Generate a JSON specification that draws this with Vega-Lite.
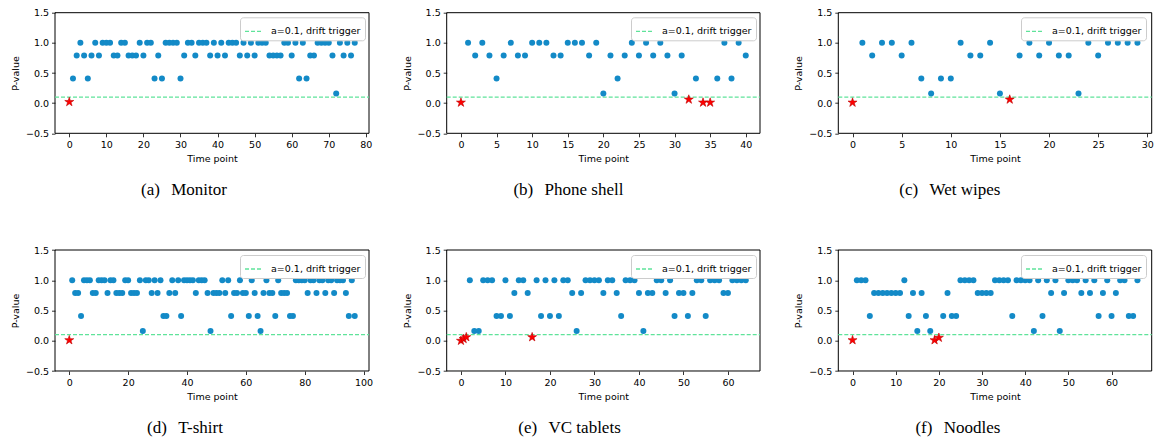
{
"$schema": "https://vega.github.io/schema/vega-lite/v6.json",
"autosize": "none",
"width": 1097,
"height": 358.3,
"padding": {"left": 55, "top": 12.7, "right": 9, "bottom": 72},
"background": "white",
"data": {"values": [
{"p":"a","t":0,"v":0.02,"k":"s"},{"p":"a","t":1,"v":0.41,"k":"c"},{"p":"a","t":2,"v":0.79,"k":"c"},{"p":"a","t":3,"v":1.0,"k":"c"},{"p":"a","t":4,"v":0.79,"k":"c"},{"p":"a","t":5,"v":0.41,"k":"c"},{"p":"a","t":6,"v":0.79,"k":"c"},{"p":"a","t":7,"v":1.0,"k":"c"},{"p":"a","t":8,"v":0.79,"k":"c"},{"p":"a","t":9,"v":1.0,"k":"c"},{"p":"a","t":10,"v":1.0,"k":"c"},{"p":"a","t":11,"v":1.0,"k":"c"},{"p":"a","t":12,"v":0.79,"k":"c"},{"p":"a","t":13,"v":0.79,"k":"c"},{"p":"a","t":14,"v":1.0,"k":"c"},{"p":"a","t":15,"v":1.0,"k":"c"},{"p":"a","t":16,"v":0.79,"k":"c"},{"p":"a","t":17,"v":0.79,"k":"c"},{"p":"a","t":18,"v":0.79,"k":"c"},{"p":"a","t":19,"v":1.0,"k":"c"},{"p":"a","t":20,"v":0.79,"k":"c"},{"p":"a","t":21,"v":1.0,"k":"c"},{"p":"a","t":22,"v":1.0,"k":"c"},{"p":"a","t":23,"v":0.41,"k":"c"},{"p":"a","t":24,"v":0.79,"k":"c"},{"p":"a","t":25,"v":0.41,"k":"c"},{"p":"a","t":26,"v":1.0,"k":"c"},{"p":"a","t":27,"v":1.0,"k":"c"},{"p":"a","t":28,"v":1.0,"k":"c"},{"p":"a","t":29,"v":1.0,"k":"c"},{"p":"a","t":30,"v":0.41,"k":"c"},{"p":"a","t":31,"v":0.79,"k":"c"},{"p":"a","t":32,"v":1.0,"k":"c"},{"p":"a","t":33,"v":1.0,"k":"c"},{"p":"a","t":34,"v":0.79,"k":"c"},{"p":"a","t":35,"v":1.0,"k":"c"},{"p":"a","t":36,"v":1.0,"k":"c"},{"p":"a","t":37,"v":1.0,"k":"c"},{"p":"a","t":38,"v":0.79,"k":"c"},{"p":"a","t":39,"v":1.0,"k":"c"},{"p":"a","t":40,"v":0.79,"k":"c"},{"p":"a","t":41,"v":1.0,"k":"c"},{"p":"a","t":42,"v":0.79,"k":"c"},{"p":"a","t":43,"v":1.0,"k":"c"},{"p":"a","t":44,"v":1.0,"k":"c"},{"p":"a","t":45,"v":1.0,"k":"c"},{"p":"a","t":46,"v":0.79,"k":"c"},{"p":"a","t":47,"v":1.0,"k":"c"},{"p":"a","t":48,"v":0.79,"k":"c"},{"p":"a","t":49,"v":1.0,"k":"c"},{"p":"a","t":50,"v":0.79,"k":"c"},{"p":"a","t":51,"v":1.0,"k":"c"},{"p":"a","t":52,"v":1.0,"k":"c"},{"p":"a","t":53,"v":1.0,"k":"c"},{"p":"a","t":54,"v":0.79,"k":"c"},{"p":"a","t":55,"v":0.79,"k":"c"},{"p":"a","t":56,"v":0.79,"k":"c"},{"p":"a","t":57,"v":0.79,"k":"c"},{"p":"a","t":58,"v":1.0,"k":"c"},{"p":"a","t":59,"v":1.0,"k":"c"},{"p":"a","t":60,"v":0.79,"k":"c"},{"p":"a","t":61,"v":1.0,"k":"c"},{"p":"a","t":62,"v":0.41,"k":"c"},{"p":"a","t":63,"v":1.0,"k":"c"},{"p":"a","t":64,"v":0.41,"k":"c"},{"p":"a","t":65,"v":0.79,"k":"c"},{"p":"a","t":66,"v":0.79,"k":"c"},{"p":"a","t":67,"v":1.0,"k":"c"},{"p":"a","t":68,"v":1.0,"k":"c"},{"p":"a","t":69,"v":1.0,"k":"c"},{"p":"a","t":70,"v":1.0,"k":"c"},{"p":"a","t":71,"v":0.79,"k":"c"},{"p":"a","t":72,"v":0.16,"k":"c"},{"p":"a","t":73,"v":1.0,"k":"c"},{"p":"a","t":74,"v":0.79,"k":"c"},{"p":"a","t":75,"v":1.0,"k":"c"},{"p":"a","t":76,"v":0.79,"k":"c"},{"p":"a","t":77,"v":1.0,"k":"c"},
{"p":"b","t":0,"v":0.01,"k":"s"},{"p":"b","t":1,"v":1.0,"k":"c"},{"p":"b","t":2,"v":0.79,"k":"c"},{"p":"b","t":3,"v":1.0,"k":"c"},{"p":"b","t":4,"v":0.79,"k":"c"},{"p":"b","t":5,"v":0.41,"k":"c"},{"p":"b","t":6,"v":0.79,"k":"c"},{"p":"b","t":7,"v":1.0,"k":"c"},{"p":"b","t":8,"v":0.79,"k":"c"},{"p":"b","t":9,"v":0.79,"k":"c"},{"p":"b","t":10,"v":1.0,"k":"c"},{"p":"b","t":11,"v":1.0,"k":"c"},{"p":"b","t":12,"v":1.0,"k":"c"},{"p":"b","t":13,"v":0.79,"k":"c"},{"p":"b","t":14,"v":0.79,"k":"c"},{"p":"b","t":15,"v":1.0,"k":"c"},{"p":"b","t":16,"v":1.0,"k":"c"},{"p":"b","t":17,"v":1.0,"k":"c"},{"p":"b","t":18,"v":0.79,"k":"c"},{"p":"b","t":19,"v":1.0,"k":"c"},{"p":"b","t":20,"v":0.16,"k":"c"},{"p":"b","t":21,"v":0.79,"k":"c"},{"p":"b","t":22,"v":0.41,"k":"c"},{"p":"b","t":23,"v":0.79,"k":"c"},{"p":"b","t":24,"v":1.0,"k":"c"},{"p":"b","t":25,"v":0.79,"k":"c"},{"p":"b","t":26,"v":1.0,"k":"c"},{"p":"b","t":27,"v":0.79,"k":"c"},{"p":"b","t":28,"v":1.0,"k":"c"},{"p":"b","t":29,"v":0.79,"k":"c"},{"p":"b","t":30,"v":0.16,"k":"c"},{"p":"b","t":31,"v":0.79,"k":"c"},{"p":"b","t":32,"v":0.06,"k":"s"},{"p":"b","t":33,"v":0.41,"k":"c"},{"p":"b","t":34,"v":0.01,"k":"s"},{"p":"b","t":35,"v":0.01,"k":"s"},{"p":"b","t":36,"v":0.41,"k":"c"},{"p":"b","t":37,"v":1.0,"k":"c"},{"p":"b","t":38,"v":0.41,"k":"c"},{"p":"b","t":39,"v":1.0,"k":"c"},{"p":"b","t":40,"v":0.79,"k":"c"},
{"p":"c","t":0,"v":0.01,"k":"s"},{"p":"c","t":1,"v":1.0,"k":"c"},{"p":"c","t":2,"v":0.79,"k":"c"},{"p":"c","t":3,"v":1.0,"k":"c"},{"p":"c","t":4,"v":1.0,"k":"c"},{"p":"c","t":5,"v":0.79,"k":"c"},{"p":"c","t":6,"v":1.0,"k":"c"},{"p":"c","t":7,"v":0.41,"k":"c"},{"p":"c","t":8,"v":0.16,"k":"c"},{"p":"c","t":9,"v":0.41,"k":"c"},{"p":"c","t":10,"v":0.41,"k":"c"},{"p":"c","t":11,"v":1.0,"k":"c"},{"p":"c","t":12,"v":0.79,"k":"c"},{"p":"c","t":13,"v":0.79,"k":"c"},{"p":"c","t":14,"v":1.0,"k":"c"},{"p":"c","t":15,"v":0.16,"k":"c"},{"p":"c","t":16,"v":0.06,"k":"s"},{"p":"c","t":17,"v":0.79,"k":"c"},{"p":"c","t":18,"v":1.0,"k":"c"},{"p":"c","t":19,"v":0.79,"k":"c"},{"p":"c","t":20,"v":1.0,"k":"c"},{"p":"c","t":21,"v":0.79,"k":"c"},{"p":"c","t":22,"v":0.79,"k":"c"},{"p":"c","t":23,"v":0.16,"k":"c"},{"p":"c","t":24,"v":1.0,"k":"c"},{"p":"c","t":25,"v":0.79,"k":"c"},{"p":"c","t":26,"v":1.0,"k":"c"},{"p":"c","t":27,"v":1.0,"k":"c"},{"p":"c","t":28,"v":1.0,"k":"c"},{"p":"c","t":29,"v":1.0,"k":"c"},
{"p":"d","t":0,"v":0.01,"k":"s"},{"p":"d","t":1,"v":1.0,"k":"c"},{"p":"d","t":2,"v":0.79,"k":"c"},{"p":"d","t":3,"v":0.79,"k":"c"},{"p":"d","t":4,"v":0.41,"k":"c"},{"p":"d","t":5,"v":1.0,"k":"c"},{"p":"d","t":6,"v":1.0,"k":"c"},{"p":"d","t":7,"v":1.0,"k":"c"},{"p":"d","t":8,"v":0.79,"k":"c"},{"p":"d","t":9,"v":0.79,"k":"c"},{"p":"d","t":10,"v":1.0,"k":"c"},{"p":"d","t":11,"v":1.0,"k":"c"},{"p":"d","t":12,"v":1.0,"k":"c"},{"p":"d","t":13,"v":0.79,"k":"c"},{"p":"d","t":14,"v":1.0,"k":"c"},{"p":"d","t":15,"v":1.0,"k":"c"},{"p":"d","t":16,"v":0.79,"k":"c"},{"p":"d","t":17,"v":0.79,"k":"c"},{"p":"d","t":18,"v":0.79,"k":"c"},{"p":"d","t":19,"v":1.0,"k":"c"},{"p":"d","t":20,"v":1.0,"k":"c"},{"p":"d","t":21,"v":0.79,"k":"c"},{"p":"d","t":22,"v":0.79,"k":"c"},{"p":"d","t":23,"v":0.79,"k":"c"},{"p":"d","t":24,"v":1.0,"k":"c"},{"p":"d","t":25,"v":0.16,"k":"c"},{"p":"d","t":26,"v":1.0,"k":"c"},{"p":"d","t":27,"v":1.0,"k":"c"},{"p":"d","t":28,"v":0.79,"k":"c"},{"p":"d","t":29,"v":1.0,"k":"c"},{"p":"d","t":30,"v":0.79,"k":"c"},{"p":"d","t":31,"v":1.0,"k":"c"},{"p":"d","t":32,"v":0.41,"k":"c"},{"p":"d","t":33,"v":0.41,"k":"c"},{"p":"d","t":34,"v":0.79,"k":"c"},{"p":"d","t":35,"v":1.0,"k":"c"},{"p":"d","t":36,"v":0.79,"k":"c"},{"p":"d","t":37,"v":1.0,"k":"c"},{"p":"d","t":38,"v":0.41,"k":"c"},{"p":"d","t":39,"v":1.0,"k":"c"},{"p":"d","t":40,"v":1.0,"k":"c"},{"p":"d","t":41,"v":1.0,"k":"c"},{"p":"d","t":42,"v":1.0,"k":"c"},{"p":"d","t":43,"v":0.79,"k":"c"},{"p":"d","t":44,"v":1.0,"k":"c"},{"p":"d","t":45,"v":1.0,"k":"c"},{"p":"d","t":46,"v":1.0,"k":"c"},{"p":"d","t":47,"v":0.79,"k":"c"},{"p":"d","t":48,"v":0.16,"k":"c"},{"p":"d","t":49,"v":0.79,"k":"c"},{"p":"d","t":50,"v":0.79,"k":"c"},{"p":"d","t":51,"v":0.79,"k":"c"},{"p":"d","t":52,"v":1.0,"k":"c"},{"p":"d","t":53,"v":0.79,"k":"c"},{"p":"d","t":54,"v":1.0,"k":"c"},{"p":"d","t":55,"v":0.41,"k":"c"},{"p":"d","t":56,"v":0.79,"k":"c"},{"p":"d","t":57,"v":0.79,"k":"c"},{"p":"d","t":58,"v":1.0,"k":"c"},{"p":"d","t":59,"v":0.79,"k":"c"},{"p":"d","t":60,"v":0.79,"k":"c"},{"p":"d","t":61,"v":0.41,"k":"c"},{"p":"d","t":62,"v":1.0,"k":"c"},{"p":"d","t":63,"v":0.79,"k":"c"},{"p":"d","t":64,"v":0.41,"k":"c"},{"p":"d","t":65,"v":0.16,"k":"c"},{"p":"d","t":66,"v":0.79,"k":"c"},{"p":"d","t":67,"v":1.0,"k":"c"},{"p":"d","t":68,"v":0.79,"k":"c"},{"p":"d","t":69,"v":0.79,"k":"c"},{"p":"d","t":70,"v":0.41,"k":"c"},{"p":"d","t":71,"v":1.0,"k":"c"},{"p":"d","t":72,"v":0.79,"k":"c"},{"p":"d","t":73,"v":0.79,"k":"c"},{"p":"d","t":74,"v":0.79,"k":"c"},{"p":"d","t":75,"v":0.41,"k":"c"},{"p":"d","t":76,"v":0.41,"k":"c"},{"p":"d","t":77,"v":1.0,"k":"c"},{"p":"d","t":78,"v":1.0,"k":"c"},{"p":"d","t":79,"v":1.0,"k":"c"},{"p":"d","t":80,"v":1.0,"k":"c"},{"p":"d","t":81,"v":0.79,"k":"c"},{"p":"d","t":82,"v":1.0,"k":"c"},{"p":"d","t":83,"v":1.0,"k":"c"},{"p":"d","t":84,"v":0.79,"k":"c"},{"p":"d","t":85,"v":1.0,"k":"c"},{"p":"d","t":86,"v":1.0,"k":"c"},{"p":"d","t":87,"v":0.79,"k":"c"},{"p":"d","t":88,"v":1.0,"k":"c"},{"p":"d","t":89,"v":1.0,"k":"c"},{"p":"d","t":90,"v":0.79,"k":"c"},{"p":"d","t":91,"v":1.0,"k":"c"},{"p":"d","t":92,"v":1.0,"k":"c"},{"p":"d","t":93,"v":1.0,"k":"c"},{"p":"d","t":94,"v":0.79,"k":"c"},{"p":"d","t":95,"v":0.41,"k":"c"},{"p":"d","t":96,"v":1.0,"k":"c"},{"p":"d","t":97,"v":0.41,"k":"c"},
{"p":"e","t":0,"v":0.0,"k":"s"},{"p":"e","t":0.6,"v":0.03,"k":"s"},{"p":"e","t":1.2,"v":0.06,"k":"s"},{"p":"e","t":2,"v":1.0,"k":"c"},{"p":"e","t":3,"v":0.16,"k":"c"},{"p":"e","t":4,"v":0.16,"k":"c"},{"p":"e","t":5,"v":1.0,"k":"c"},{"p":"e","t":6,"v":1.0,"k":"c"},{"p":"e","t":7,"v":1.0,"k":"c"},{"p":"e","t":8,"v":0.41,"k":"c"},{"p":"e","t":9,"v":0.41,"k":"c"},{"p":"e","t":10,"v":1.0,"k":"c"},{"p":"e","t":11,"v":0.41,"k":"c"},{"p":"e","t":12,"v":0.79,"k":"c"},{"p":"e","t":13,"v":1.0,"k":"c"},{"p":"e","t":14,"v":1.0,"k":"c"},{"p":"e","t":15,"v":0.79,"k":"c"},{"p":"e","t":16,"v":0.06,"k":"s"},{"p":"e","t":17,"v":1.0,"k":"c"},{"p":"e","t":18,"v":0.41,"k":"c"},{"p":"e","t":19,"v":1.0,"k":"c"},{"p":"e","t":20,"v":0.41,"k":"c"},{"p":"e","t":21,"v":1.0,"k":"c"},{"p":"e","t":22,"v":0.41,"k":"c"},{"p":"e","t":23,"v":1.0,"k":"c"},{"p":"e","t":24,"v":1.0,"k":"c"},{"p":"e","t":25,"v":0.79,"k":"c"},{"p":"e","t":26,"v":0.16,"k":"c"},{"p":"e","t":27,"v":0.79,"k":"c"},{"p":"e","t":28,"v":1.0,"k":"c"},{"p":"e","t":29,"v":1.0,"k":"c"},{"p":"e","t":30,"v":1.0,"k":"c"},{"p":"e","t":31,"v":1.0,"k":"c"},{"p":"e","t":32,"v":0.79,"k":"c"},{"p":"e","t":33,"v":1.0,"k":"c"},{"p":"e","t":34,"v":1.0,"k":"c"},{"p":"e","t":35,"v":0.79,"k":"c"},{"p":"e","t":36,"v":0.41,"k":"c"},{"p":"e","t":37,"v":1.0,"k":"c"},{"p":"e","t":38,"v":1.0,"k":"c"},{"p":"e","t":39,"v":1.0,"k":"c"},{"p":"e","t":40,"v":0.79,"k":"c"},{"p":"e","t":41,"v":0.16,"k":"c"},{"p":"e","t":42,"v":0.79,"k":"c"},{"p":"e","t":43,"v":0.79,"k":"c"},{"p":"e","t":44,"v":1.0,"k":"c"},{"p":"e","t":45,"v":1.0,"k":"c"},{"p":"e","t":46,"v":0.79,"k":"c"},{"p":"e","t":47,"v":1.0,"k":"c"},{"p":"e","t":48,"v":0.41,"k":"c"},{"p":"e","t":49,"v":0.79,"k":"c"},{"p":"e","t":50,"v":0.79,"k":"c"},{"p":"e","t":51,"v":0.41,"k":"c"},{"p":"e","t":52,"v":0.79,"k":"c"},{"p":"e","t":53,"v":1.0,"k":"c"},{"p":"e","t":54,"v":1.0,"k":"c"},{"p":"e","t":55,"v":0.41,"k":"c"},{"p":"e","t":56,"v":1.0,"k":"c"},{"p":"e","t":57,"v":1.0,"k":"c"},{"p":"e","t":58,"v":1.0,"k":"c"},{"p":"e","t":59,"v":0.79,"k":"c"},{"p":"e","t":60,"v":0.79,"k":"c"},{"p":"e","t":61,"v":1.0,"k":"c"},{"p":"e","t":62,"v":1.0,"k":"c"},{"p":"e","t":63,"v":1.0,"k":"c"},{"p":"e","t":64,"v":1.0,"k":"c"},
{"p":"f","t":0,"v":0.01,"k":"s"},{"p":"f","t":1,"v":1.0,"k":"c"},{"p":"f","t":2,"v":1.0,"k":"c"},{"p":"f","t":3,"v":1.0,"k":"c"},{"p":"f","t":4,"v":0.41,"k":"c"},{"p":"f","t":5,"v":0.79,"k":"c"},{"p":"f","t":6,"v":0.79,"k":"c"},{"p":"f","t":7,"v":0.79,"k":"c"},{"p":"f","t":8,"v":0.79,"k":"c"},{"p":"f","t":9,"v":0.79,"k":"c"},{"p":"f","t":10,"v":0.79,"k":"c"},{"p":"f","t":11,"v":0.79,"k":"c"},{"p":"f","t":12,"v":1.0,"k":"c"},{"p":"f","t":13,"v":0.41,"k":"c"},{"p":"f","t":14,"v":0.79,"k":"c"},{"p":"f","t":15,"v":0.16,"k":"c"},{"p":"f","t":16,"v":0.79,"k":"c"},{"p":"f","t":17,"v":0.41,"k":"c"},{"p":"f","t":18,"v":0.16,"k":"c"},{"p":"f","t":19,"v":0.01,"k":"s"},{"p":"f","t":20,"v":0.05,"k":"s"},{"p":"f","t":21,"v":0.41,"k":"c"},{"p":"f","t":22,"v":0.79,"k":"c"},{"p":"f","t":23,"v":0.41,"k":"c"},{"p":"f","t":24,"v":0.41,"k":"c"},{"p":"f","t":25,"v":1.0,"k":"c"},{"p":"f","t":26,"v":1.0,"k":"c"},{"p":"f","t":27,"v":1.0,"k":"c"},{"p":"f","t":28,"v":1.0,"k":"c"},{"p":"f","t":29,"v":0.79,"k":"c"},{"p":"f","t":30,"v":0.79,"k":"c"},{"p":"f","t":31,"v":0.79,"k":"c"},{"p":"f","t":32,"v":0.79,"k":"c"},{"p":"f","t":33,"v":1.0,"k":"c"},{"p":"f","t":34,"v":1.0,"k":"c"},{"p":"f","t":35,"v":1.0,"k":"c"},{"p":"f","t":36,"v":1.0,"k":"c"},{"p":"f","t":37,"v":0.41,"k":"c"},{"p":"f","t":38,"v":1.0,"k":"c"},{"p":"f","t":39,"v":1.0,"k":"c"},{"p":"f","t":40,"v":1.0,"k":"c"},{"p":"f","t":41,"v":1.0,"k":"c"},{"p":"f","t":42,"v":0.16,"k":"c"},{"p":"f","t":43,"v":1.0,"k":"c"},{"p":"f","t":44,"v":0.41,"k":"c"},{"p":"f","t":45,"v":1.0,"k":"c"},{"p":"f","t":46,"v":0.79,"k":"c"},{"p":"f","t":47,"v":1.0,"k":"c"},{"p":"f","t":48,"v":0.16,"k":"c"},{"p":"f","t":49,"v":0.79,"k":"c"},{"p":"f","t":50,"v":1.0,"k":"c"},{"p":"f","t":51,"v":1.0,"k":"c"},{"p":"f","t":52,"v":1.0,"k":"c"},{"p":"f","t":53,"v":0.79,"k":"c"},{"p":"f","t":54,"v":1.0,"k":"c"},{"p":"f","t":55,"v":0.79,"k":"c"},{"p":"f","t":56,"v":1.0,"k":"c"},{"p":"f","t":57,"v":0.41,"k":"c"},{"p":"f","t":58,"v":0.79,"k":"c"},{"p":"f","t":59,"v":1.0,"k":"c"},{"p":"f","t":60,"v":0.41,"k":"c"},{"p":"f","t":61,"v":0.79,"k":"c"},{"p":"f","t":62,"v":1.0,"k":"c"},{"p":"f","t":63,"v":1.0,"k":"c"},{"p":"f","t":64,"v":0.41,"k":"c"},{"p":"f","t":65,"v":0.41,"k":"c"},{"p":"f","t":66,"v":1.0,"k":"c"}
]},
"resolve": {"scale": {"x": "independent", "y": "independent", "color": "independent"}, "axis": {"x": "independent", "y": "independent"}, "legend": {"color": "independent"}},
"layer": [
{"layer": [
  {"data": {"values": [{}]}, "mark": {"type": "rect", "filled": false, "color": "black", "strokeWidth": 1},
   "encoding": {"x": {"datum": -3.85, "type": "quantitative", "title": "Time point", "scale": {"domain": [-3.85, 80.85], "range": [0, 314], "nice": false, "zero": false}, "axis": {"orient": "bottom", "offset": -237.7, "values": [0,10,20,30,40,50,60,70,80], "format": "d"}}, "x2": {"datum": 80.85}, "y": {"datum": -0.5, "type": "quantitative", "title": "P-value", "scale": {"domain": [-0.5, 1.5], "range": [120.6, 0], "nice": false, "zero": false}, "axis": {"orient": "left", "offset": 0, "values": [-0.5,0,0.5,1,1.5], "format": ".1f"}}, "y2": {"datum": 1.5}}},
  {"data": {"values": [{}]}, "mark": {"type": "rule", "strokeDash": [4, 2], "strokeWidth": 1.3},
   "encoding": {"x": {"datum": -3.85, "type": "quantitative", "title": "Time point", "scale": {"domain": [-3.85, 80.85], "range": [0, 314], "nice": false, "zero": false}, "axis": {"orient": "bottom", "offset": -237.7, "values": [0,10,20,30,40,50,60,70,80], "format": "d"}}, "x2": {"datum": 80.85}, "y": {"datum": 0.1, "type": "quantitative", "title": "P-value", "scale": {"domain": [-0.5, 1.5], "range": [120.6, 0], "nice": false, "zero": false}, "axis": {"orient": "left", "offset": 0, "values": [-0.5,0,0.5,1,1.5], "format": ".1f"}},
    "color": {"datum": "a=0.1, drift trigger", "type": "nominal", "scale": {"range": ["#5fe39a"]}, "legend": {"title": null, "orient": "none", "legendX": 185, "legendY": 4.6}}}},
  {"transform": [{"filter": "datum.p == 'a' && datum.k == 'c'"}], "mark": {"type": "circle", "size": 36, "opacity": 1, "color": "#138ac7"},
   "encoding": {"x": {"field": "t", "type": "quantitative", "title": "Time point", "scale": {"domain": [-3.85, 80.85], "range": [0, 314], "nice": false, "zero": false}, "axis": {"orient": "bottom", "offset": -237.7, "values": [0,10,20,30,40,50,60,70,80], "format": "d"}},
    "y": {"field": "v", "type": "quantitative", "title": "P-value", "scale": {"domain": [-0.5, 1.5], "range": [120.6, 0], "nice": false, "zero": false}, "axis": {"orient": "left", "offset": 0, "values": [-0.5,0,0.5,1,1.5], "format": ".1f"}}}},
  {"transform": [{"filter": "datum.p == 'a' && datum.k == 's'"}], "mark": {"type": "point", "shape": "M0,-1L0.2245,-0.309L0.951,-0.309L0.3633,0.118L0.5878,0.809L0,0.382L-0.5878,0.809L-0.3633,0.118L-0.951,-0.309L-0.2245,-0.309Z", "filled": true, "fill": "#ff0000", "stroke": "#c00000", "strokeWidth": 0.6, "opacity": 1, "size": 90},
   "encoding": {"x": {"field": "t", "type": "quantitative", "title": "Time point", "scale": {"domain": [-3.85, 80.85], "range": [0, 314], "nice": false, "zero": false}, "axis": {"orient": "bottom", "offset": -237.7, "values": [0,10,20,30,40,50,60,70,80], "format": "d"}}, "y": {"field": "v", "type": "quantitative", "title": "P-value", "scale": {"domain": [-0.5, 1.5], "range": [120.6, 0], "nice": false, "zero": false}, "axis": {"orient": "left", "offset": 0, "values": [-0.5,0,0.5,1,1.5], "format": ".1f"}}}},
  {"data": {"values": [{}]}, "mark": {"type": "text", "font": "Liberation Serif", "fontSize": 17, "color": "black", "baseline": "middle", "align": "center"},
   "encoding": {"x": {"datum": 30.95, "type": "quantitative", "title": "Time point", "scale": {"domain": [-3.85, 80.85], "range": [0, 314], "nice": false, "zero": false}, "axis": {"orient": "bottom", "offset": -237.7, "values": [0,10,20,30,40,50,60,70,80], "format": "d"}}, "y": {"datum": -1.44, "type": "quantitative", "title": "P-value", "scale": {"domain": [-0.5, 1.5], "range": [120.6, 0], "nice": false, "zero": false}, "axis": {"orient": "left", "offset": 0, "values": [-0.5,0,0.5,1,1.5], "format": ".1f"}}, "text": {"value": "(a)\u2002\u2006Monitor"}}}
]},
{"layer": [
  {"data": {"values": [{}]}, "mark": {"type": "rect", "filled": false, "color": "black", "strokeWidth": 1},
   "encoding": {"x": {"datum": -2, "type": "quantitative", "title": "Time point", "scale": {"domain": [-2, 42], "range": [391.7, 705], "nice": false, "zero": false}, "axis": {"orient": "bottom", "offset": -237.7, "values": [0,5,10,15,20,25,30,35,40], "format": "d"}}, "x2": {"datum": 42}, "y": {"datum": -0.5, "type": "quantitative", "title": "P-value", "scale": {"domain": [-0.5, 1.5], "range": [120.6, 0], "nice": false, "zero": false}, "axis": {"orient": "left", "offset": -391.7, "values": [-0.5,0,0.5,1,1.5], "format": ".1f"}}, "y2": {"datum": 1.5}}},
  {"data": {"values": [{}]}, "mark": {"type": "rule", "strokeDash": [4, 2], "strokeWidth": 1.3},
   "encoding": {"x": {"datum": -2, "type": "quantitative", "title": "Time point", "scale": {"domain": [-2, 42], "range": [391.7, 705], "nice": false, "zero": false}, "axis": {"orient": "bottom", "offset": -237.7, "values": [0,5,10,15,20,25,30,35,40], "format": "d"}}, "x2": {"datum": 42}, "y": {"datum": 0.1, "type": "quantitative", "title": "P-value", "scale": {"domain": [-0.5, 1.5], "range": [120.6, 0], "nice": false, "zero": false}, "axis": {"orient": "left", "offset": -391.7, "values": [-0.5,0,0.5,1,1.5], "format": ".1f"}},
    "color": {"datum": "a=0.1, drift trigger", "type": "nominal", "scale": {"range": ["#5fe39a"]}, "legend": {"title": null, "orient": "none", "legendX": 576, "legendY": 4.6}}}},
  {"transform": [{"filter": "datum.p == 'b' && datum.k == 'c'"}], "mark": {"type": "circle", "size": 36, "opacity": 1, "color": "#138ac7"},
   "encoding": {"x": {"field": "t", "type": "quantitative", "title": "Time point", "scale": {"domain": [-2, 42], "range": [391.7, 705], "nice": false, "zero": false}, "axis": {"orient": "bottom", "offset": -237.7, "values": [0,5,10,15,20,25,30,35,40], "format": "d"}},
    "y": {"field": "v", "type": "quantitative", "title": "P-value", "scale": {"domain": [-0.5, 1.5], "range": [120.6, 0], "nice": false, "zero": false}, "axis": {"orient": "left", "offset": -391.7, "values": [-0.5,0,0.5,1,1.5], "format": ".1f"}}}},
  {"transform": [{"filter": "datum.p == 'b' && datum.k == 's'"}], "mark": {"type": "point", "shape": "M0,-1L0.2245,-0.309L0.951,-0.309L0.3633,0.118L0.5878,0.809L0,0.382L-0.5878,0.809L-0.3633,0.118L-0.951,-0.309L-0.2245,-0.309Z", "filled": true, "fill": "#ff0000", "stroke": "#c00000", "strokeWidth": 0.6, "opacity": 1, "size": 90},
   "encoding": {"x": {"field": "t", "type": "quantitative", "title": "Time point", "scale": {"domain": [-2, 42], "range": [391.7, 705], "nice": false, "zero": false}, "axis": {"orient": "bottom", "offset": -237.7, "values": [0,5,10,15,20,25,30,35,40], "format": "d"}}, "y": {"field": "v", "type": "quantitative", "title": "P-value", "scale": {"domain": [-0.5, 1.5], "range": [120.6, 0], "nice": false, "zero": false}, "axis": {"orient": "left", "offset": -391.7, "values": [-0.5,0,0.5,1,1.5], "format": ".1f"}}}},
  {"data": {"values": [{}]}, "mark": {"type": "text", "font": "Liberation Serif", "fontSize": 17, "color": "black", "baseline": "middle", "align": "center"},
   "encoding": {"x": {"datum": 15.1, "type": "quantitative", "title": "Time point", "scale": {"domain": [-2, 42], "range": [391.7, 705], "nice": false, "zero": false}, "axis": {"orient": "bottom", "offset": -237.7, "values": [0,5,10,15,20,25,30,35,40], "format": "d"}}, "y": {"datum": -1.44, "type": "quantitative", "title": "P-value", "scale": {"domain": [-0.5, 1.5], "range": [120.6, 0], "nice": false, "zero": false}, "axis": {"orient": "left", "offset": -391.7, "values": [-0.5,0,0.5,1,1.5], "format": ".1f"}}, "text": {"value": "(b)\u2002\u2006Phone shell"}}}
]},
{"layer": [
  {"data": {"values": [{}]}, "mark": {"type": "rect", "filled": false, "color": "black", "strokeWidth": 1},
   "encoding": {"x": {"datum": -1.45, "type": "quantitative", "title": "Time point", "scale": {"domain": [-1.45, 30.45], "range": [783.3, 1096.7], "nice": false, "zero": false}, "axis": {"orient": "bottom", "offset": -237.7, "values": [0,5,10,15,20,25,30], "format": "d"}}, "x2": {"datum": 30.45}, "y": {"datum": -0.5, "type": "quantitative", "title": "P-value", "scale": {"domain": [-0.5, 1.5], "range": [120.6, 0], "nice": false, "zero": false}, "axis": {"orient": "left", "offset": -783.3, "values": [-0.5,0,0.5,1,1.5], "format": ".1f"}}, "y2": {"datum": 1.5}}},
  {"data": {"values": [{}]}, "mark": {"type": "rule", "strokeDash": [4, 2], "strokeWidth": 1.3},
   "encoding": {"x": {"datum": -1.45, "type": "quantitative", "title": "Time point", "scale": {"domain": [-1.45, 30.45], "range": [783.3, 1096.7], "nice": false, "zero": false}, "axis": {"orient": "bottom", "offset": -237.7, "values": [0,5,10,15,20,25,30], "format": "d"}}, "x2": {"datum": 30.45}, "y": {"datum": 0.1, "type": "quantitative", "title": "P-value", "scale": {"domain": [-0.5, 1.5], "range": [120.6, 0], "nice": false, "zero": false}, "axis": {"orient": "left", "offset": -783.3, "values": [-0.5,0,0.5,1,1.5], "format": ".1f"}},
    "color": {"datum": "a=0.1, drift trigger", "type": "nominal", "scale": {"range": ["#5fe39a"]}, "legend": {"title": null, "orient": "none", "legendX": 966, "legendY": 4.6}}}},
  {"transform": [{"filter": "datum.p == 'c' && datum.k == 'c'"}], "mark": {"type": "circle", "size": 36, "opacity": 1, "color": "#138ac7"},
   "encoding": {"x": {"field": "t", "type": "quantitative", "title": "Time point", "scale": {"domain": [-1.45, 30.45], "range": [783.3, 1096.7], "nice": false, "zero": false}, "axis": {"orient": "bottom", "offset": -237.7, "values": [0,5,10,15,20,25,30], "format": "d"}},
    "y": {"field": "v", "type": "quantitative", "title": "P-value", "scale": {"domain": [-0.5, 1.5], "range": [120.6, 0], "nice": false, "zero": false}, "axis": {"orient": "left", "offset": -783.3, "values": [-0.5,0,0.5,1,1.5], "format": ".1f"}}}},
  {"transform": [{"filter": "datum.p == 'c' && datum.k == 's'"}], "mark": {"type": "point", "shape": "M0,-1L0.2245,-0.309L0.951,-0.309L0.3633,0.118L0.5878,0.809L0,0.382L-0.5878,0.809L-0.3633,0.118L-0.951,-0.309L-0.2245,-0.309Z", "filled": true, "fill": "#ff0000", "stroke": "#c00000", "strokeWidth": 0.6, "opacity": 1, "size": 90},
   "encoding": {"x": {"field": "t", "type": "quantitative", "title": "Time point", "scale": {"domain": [-1.45, 30.45], "range": [783.3, 1096.7], "nice": false, "zero": false}, "axis": {"orient": "bottom", "offset": -237.7, "values": [0,5,10,15,20,25,30], "format": "d"}}, "y": {"field": "v", "type": "quantitative", "title": "P-value", "scale": {"domain": [-0.5, 1.5], "range": [120.6, 0], "nice": false, "zero": false}, "axis": {"orient": "left", "offset": -783.3, "values": [-0.5,0,0.5,1,1.5], "format": ".1f"}}}},
  {"data": {"values": [{}]}, "mark": {"type": "text", "font": "Liberation Serif", "fontSize": 17, "color": "black", "baseline": "middle", "align": "center"},
   "encoding": {"x": {"datum": 9.9, "type": "quantitative", "title": "Time point", "scale": {"domain": [-1.45, 30.45], "range": [783.3, 1096.7], "nice": false, "zero": false}, "axis": {"orient": "bottom", "offset": -237.7, "values": [0,5,10,15,20,25,30], "format": "d"}}, "y": {"datum": -1.44, "type": "quantitative", "title": "P-value", "scale": {"domain": [-0.5, 1.5], "range": [120.6, 0], "nice": false, "zero": false}, "axis": {"orient": "left", "offset": -783.3, "values": [-0.5,0,0.5,1,1.5], "format": ".1f"}}, "text": {"value": "(c)\u2002\u2006Wet wipes"}}}
]},
{"layer": [
  {"data": {"values": [{}]}, "mark": {"type": "rect", "filled": false, "color": "black", "strokeWidth": 1},
   "encoding": {"x": {"datum": -4.85, "type": "quantitative", "title": "Time point", "scale": {"domain": [-4.85, 101.85], "range": [0, 314], "nice": false, "zero": false}, "axis": {"orient": "bottom", "offset": 0, "values": [0,20,40,60,80,100], "format": "d"}}, "x2": {"datum": 101.85}, "y": {"datum": -0.5, "type": "quantitative", "title": "P-value", "scale": {"domain": [-0.5, 1.5], "range": [358.3, 237.3], "nice": false, "zero": false}, "axis": {"orient": "left", "offset": 0, "values": [-0.5,0,0.5,1,1.5], "format": ".1f"}}, "y2": {"datum": 1.5}}},
  {"data": {"values": [{}]}, "mark": {"type": "rule", "strokeDash": [4, 2], "strokeWidth": 1.3},
   "encoding": {"x": {"datum": -4.85, "type": "quantitative", "title": "Time point", "scale": {"domain": [-4.85, 101.85], "range": [0, 314], "nice": false, "zero": false}, "axis": {"orient": "bottom", "offset": 0, "values": [0,20,40,60,80,100], "format": "d"}}, "x2": {"datum": 101.85}, "y": {"datum": 0.1, "type": "quantitative", "title": "P-value", "scale": {"domain": [-0.5, 1.5], "range": [358.3, 237.3], "nice": false, "zero": false}, "axis": {"orient": "left", "offset": 0, "values": [-0.5,0,0.5,1,1.5], "format": ".1f"}},
    "color": {"datum": "a=0.1, drift trigger", "type": "nominal", "scale": {"range": ["#5fe39a"]}, "legend": {"title": null, "orient": "none", "legendX": 185, "legendY": 242.3}}}},
  {"transform": [{"filter": "datum.p == 'd' && datum.k == 'c'"}], "mark": {"type": "circle", "size": 36, "opacity": 1, "color": "#138ac7"},
   "encoding": {"x": {"field": "t", "type": "quantitative", "title": "Time point", "scale": {"domain": [-4.85, 101.85], "range": [0, 314], "nice": false, "zero": false}, "axis": {"orient": "bottom", "offset": 0, "values": [0,20,40,60,80,100], "format": "d"}},
    "y": {"field": "v", "type": "quantitative", "title": "P-value", "scale": {"domain": [-0.5, 1.5], "range": [358.3, 237.3], "nice": false, "zero": false}, "axis": {"orient": "left", "offset": 0, "values": [-0.5,0,0.5,1,1.5], "format": ".1f"}}}},
  {"transform": [{"filter": "datum.p == 'd' && datum.k == 's'"}], "mark": {"type": "point", "shape": "M0,-1L0.2245,-0.309L0.951,-0.309L0.3633,0.118L0.5878,0.809L0,0.382L-0.5878,0.809L-0.3633,0.118L-0.951,-0.309L-0.2245,-0.309Z", "filled": true, "fill": "#ff0000", "stroke": "#c00000", "strokeWidth": 0.6, "opacity": 1, "size": 90},
   "encoding": {"x": {"field": "t", "type": "quantitative", "title": "Time point", "scale": {"domain": [-4.85, 101.85], "range": [0, 314], "nice": false, "zero": false}, "axis": {"orient": "bottom", "offset": 0, "values": [0,20,40,60,80,100], "format": "d"}}, "y": {"field": "v", "type": "quantitative", "title": "P-value", "scale": {"domain": [-0.5, 1.5], "range": [358.3, 237.3], "nice": false, "zero": false}, "axis": {"orient": "left", "offset": 0, "values": [-0.5,0,0.5,1,1.5], "format": ".1f"}}}},
  {"data": {"values": [{}]}, "mark": {"type": "text", "font": "Liberation Serif", "fontSize": 17, "color": "black", "baseline": "middle", "align": "center"},
   "encoding": {"x": {"datum": 39.3, "type": "quantitative", "title": "Time point", "scale": {"domain": [-4.85, 101.85], "range": [0, 314], "nice": false, "zero": false}, "axis": {"orient": "bottom", "offset": 0, "values": [0,20,40,60,80,100], "format": "d"}}, "y": {"datum": -1.44, "type": "quantitative", "title": "P-value", "scale": {"domain": [-0.5, 1.5], "range": [358.3, 237.3], "nice": false, "zero": false}, "axis": {"orient": "left", "offset": 0, "values": [-0.5,0,0.5,1,1.5], "format": ".1f"}}, "text": {"value": "(d)\u2002\u2006T-shirt"}}}
]},
{"layer": [
  {"data": {"values": [{}]}, "mark": {"type": "rect", "filled": false, "color": "black", "strokeWidth": 1},
   "encoding": {"x": {"datum": -3.2, "type": "quantitative", "title": "Time point", "scale": {"domain": [-3.2, 67.2], "range": [391.7, 705], "nice": false, "zero": false}, "axis": {"orient": "bottom", "offset": 0, "values": [0,10,20,30,40,50,60], "format": "d"}}, "x2": {"datum": 67.2}, "y": {"datum": -0.5, "type": "quantitative", "title": "P-value", "scale": {"domain": [-0.5, 1.5], "range": [358.3, 237.3], "nice": false, "zero": false}, "axis": {"orient": "left", "offset": -391.7, "values": [-0.5,0,0.5,1,1.5], "format": ".1f"}}, "y2": {"datum": 1.5}}},
  {"data": {"values": [{}]}, "mark": {"type": "rule", "strokeDash": [4, 2], "strokeWidth": 1.3},
   "encoding": {"x": {"datum": -3.2, "type": "quantitative", "title": "Time point", "scale": {"domain": [-3.2, 67.2], "range": [391.7, 705], "nice": false, "zero": false}, "axis": {"orient": "bottom", "offset": 0, "values": [0,10,20,30,40,50,60], "format": "d"}}, "x2": {"datum": 67.2}, "y": {"datum": 0.1, "type": "quantitative", "title": "P-value", "scale": {"domain": [-0.5, 1.5], "range": [358.3, 237.3], "nice": false, "zero": false}, "axis": {"orient": "left", "offset": -391.7, "values": [-0.5,0,0.5,1,1.5], "format": ".1f"}},
    "color": {"datum": "a=0.1, drift trigger", "type": "nominal", "scale": {"range": ["#5fe39a"]}, "legend": {"title": null, "orient": "none", "legendX": 576, "legendY": 242.3}}}},
  {"transform": [{"filter": "datum.p == 'e' && datum.k == 'c'"}], "mark": {"type": "circle", "size": 36, "opacity": 1, "color": "#138ac7"},
   "encoding": {"x": {"field": "t", "type": "quantitative", "title": "Time point", "scale": {"domain": [-3.2, 67.2], "range": [391.7, 705], "nice": false, "zero": false}, "axis": {"orient": "bottom", "offset": 0, "values": [0,10,20,30,40,50,60], "format": "d"}},
    "y": {"field": "v", "type": "quantitative", "title": "P-value", "scale": {"domain": [-0.5, 1.5], "range": [358.3, 237.3], "nice": false, "zero": false}, "axis": {"orient": "left", "offset": -391.7, "values": [-0.5,0,0.5,1,1.5], "format": ".1f"}}}},
  {"transform": [{"filter": "datum.p == 'e' && datum.k == 's'"}], "mark": {"type": "point", "shape": "M0,-1L0.2245,-0.309L0.951,-0.309L0.3633,0.118L0.5878,0.809L0,0.382L-0.5878,0.809L-0.3633,0.118L-0.951,-0.309L-0.2245,-0.309Z", "filled": true, "fill": "#ff0000", "stroke": "#c00000", "strokeWidth": 0.6, "opacity": 1, "size": 90},
   "encoding": {"x": {"field": "t", "type": "quantitative", "title": "Time point", "scale": {"domain": [-3.2, 67.2], "range": [391.7, 705], "nice": false, "zero": false}, "axis": {"orient": "bottom", "offset": 0, "values": [0,10,20,30,40,50,60], "format": "d"}}, "y": {"field": "v", "type": "quantitative", "title": "P-value", "scale": {"domain": [-0.5, 1.5], "range": [358.3, 237.3], "nice": false, "zero": false}, "axis": {"orient": "left", "offset": -391.7, "values": [-0.5,0,0.5,1,1.5], "format": ".1f"}}}},
  {"data": {"values": [{}]}, "mark": {"type": "text", "font": "Liberation Serif", "fontSize": 17, "color": "black", "baseline": "middle", "align": "center"},
   "encoding": {"x": {"datum": 24.4, "type": "quantitative", "title": "Time point", "scale": {"domain": [-3.2, 67.2], "range": [391.7, 705], "nice": false, "zero": false}, "axis": {"orient": "bottom", "offset": 0, "values": [0,10,20,30,40,50,60], "format": "d"}}, "y": {"datum": -1.44, "type": "quantitative", "title": "P-value", "scale": {"domain": [-0.5, 1.5], "range": [358.3, 237.3], "nice": false, "zero": false}, "axis": {"orient": "left", "offset": -391.7, "values": [-0.5,0,0.5,1,1.5], "format": ".1f"}}, "text": {"value": "(e)\u2002\u2006VC tablets"}}}
]},
{"layer": [
  {"data": {"values": [{}]}, "mark": {"type": "rect", "filled": false, "color": "black", "strokeWidth": 1},
   "encoding": {"x": {"datum": -3.3, "type": "quantitative", "title": "Time point", "scale": {"domain": [-3.3, 69.3], "range": [783.3, 1096.7], "nice": false, "zero": false}, "axis": {"orient": "bottom", "offset": 0, "values": [0,10,20,30,40,50,60], "format": "d"}}, "x2": {"datum": 69.3}, "y": {"datum": -0.5, "type": "quantitative", "title": "P-value", "scale": {"domain": [-0.5, 1.5], "range": [358.3, 237.3], "nice": false, "zero": false}, "axis": {"orient": "left", "offset": -783.3, "values": [-0.5,0,0.5,1,1.5], "format": ".1f"}}, "y2": {"datum": 1.5}}},
  {"data": {"values": [{}]}, "mark": {"type": "rule", "strokeDash": [4, 2], "strokeWidth": 1.3},
   "encoding": {"x": {"datum": -3.3, "type": "quantitative", "title": "Time point", "scale": {"domain": [-3.3, 69.3], "range": [783.3, 1096.7], "nice": false, "zero": false}, "axis": {"orient": "bottom", "offset": 0, "values": [0,10,20,30,40,50,60], "format": "d"}}, "x2": {"datum": 69.3}, "y": {"datum": 0.1, "type": "quantitative", "title": "P-value", "scale": {"domain": [-0.5, 1.5], "range": [358.3, 237.3], "nice": false, "zero": false}, "axis": {"orient": "left", "offset": -783.3, "values": [-0.5,0,0.5,1,1.5], "format": ".1f"}},
    "color": {"datum": "a=0.1, drift trigger", "type": "nominal", "scale": {"range": ["#5fe39a"]}, "legend": {"title": null, "orient": "none", "legendX": 966, "legendY": 242.3}}}},
  {"transform": [{"filter": "datum.p == 'f' && datum.k == 'c'"}], "mark": {"type": "circle", "size": 36, "opacity": 1, "color": "#138ac7"},
   "encoding": {"x": {"field": "t", "type": "quantitative", "title": "Time point", "scale": {"domain": [-3.3, 69.3], "range": [783.3, 1096.7], "nice": false, "zero": false}, "axis": {"orient": "bottom", "offset": 0, "values": [0,10,20,30,40,50,60], "format": "d"}},
    "y": {"field": "v", "type": "quantitative", "title": "P-value", "scale": {"domain": [-0.5, 1.5], "range": [358.3, 237.3], "nice": false, "zero": false}, "axis": {"orient": "left", "offset": -783.3, "values": [-0.5,0,0.5,1,1.5], "format": ".1f"}}}},
  {"transform": [{"filter": "datum.p == 'f' && datum.k == 's'"}], "mark": {"type": "point", "shape": "M0,-1L0.2245,-0.309L0.951,-0.309L0.3633,0.118L0.5878,0.809L0,0.382L-0.5878,0.809L-0.3633,0.118L-0.951,-0.309L-0.2245,-0.309Z", "filled": true, "fill": "#ff0000", "stroke": "#c00000", "strokeWidth": 0.6, "opacity": 1, "size": 90},
   "encoding": {"x": {"field": "t", "type": "quantitative", "title": "Time point", "scale": {"domain": [-3.3, 69.3], "range": [783.3, 1096.7], "nice": false, "zero": false}, "axis": {"orient": "bottom", "offset": 0, "values": [0,10,20,30,40,50,60], "format": "d"}}, "y": {"field": "v", "type": "quantitative", "title": "P-value", "scale": {"domain": [-0.5, 1.5], "range": [358.3, 237.3], "nice": false, "zero": false}, "axis": {"orient": "left", "offset": -783.3, "values": [-0.5,0,0.5,1,1.5], "format": ".1f"}}}},
  {"data": {"values": [{}]}, "mark": {"type": "text", "font": "Liberation Serif", "fontSize": 17, "color": "black", "baseline": "middle", "align": "center"},
   "encoding": {"x": {"datum": 24.4, "type": "quantitative", "title": "Time point", "scale": {"domain": [-3.3, 69.3], "range": [783.3, 1096.7], "nice": false, "zero": false}, "axis": {"orient": "bottom", "offset": 0, "values": [0,10,20,30,40,50,60], "format": "d"}}, "y": {"datum": -1.44, "type": "quantitative", "title": "P-value", "scale": {"domain": [-0.5, 1.5], "range": [358.3, 237.3], "nice": false, "zero": false}, "axis": {"orient": "left", "offset": -783.3, "values": [-0.5,0,0.5,1,1.5], "format": ".1f"}}, "text": {"value": "(f)\u2002\u2006Noodles"}}}
]}
],
"config": {
 "view": {"stroke": null},
 "axis": {"domain": false, "tickColor": "black", "tickWidth": 0.8, "tickSize": 3.5, "labelColor": "black", "titleColor": "black", "labelFont": "DejaVu Sans", "titleFont": "DejaVu Sans", "labelFontSize": 9.5, "titleFontSize": 9.5, "titleFontWeight": "normal", "grid": false, "labelPadding": 3, "titlePadding": 4},
 "axisY": {"titlePadding": 5},
 "legend": {"fillColor": "white", "strokeColor": "#cccccc", "cornerRadius": 3, "padding": 4, "labelFont": "DejaVu Sans", "labelFontSize": 9.5, "labelColor": "black", "labelLimit": 300, "symbolType": "stroke", "symbolStrokeWidth": 1.3, "symbolDash": [4, 2], "symbolSize": 324, "labelOffset": 7}
}
}
